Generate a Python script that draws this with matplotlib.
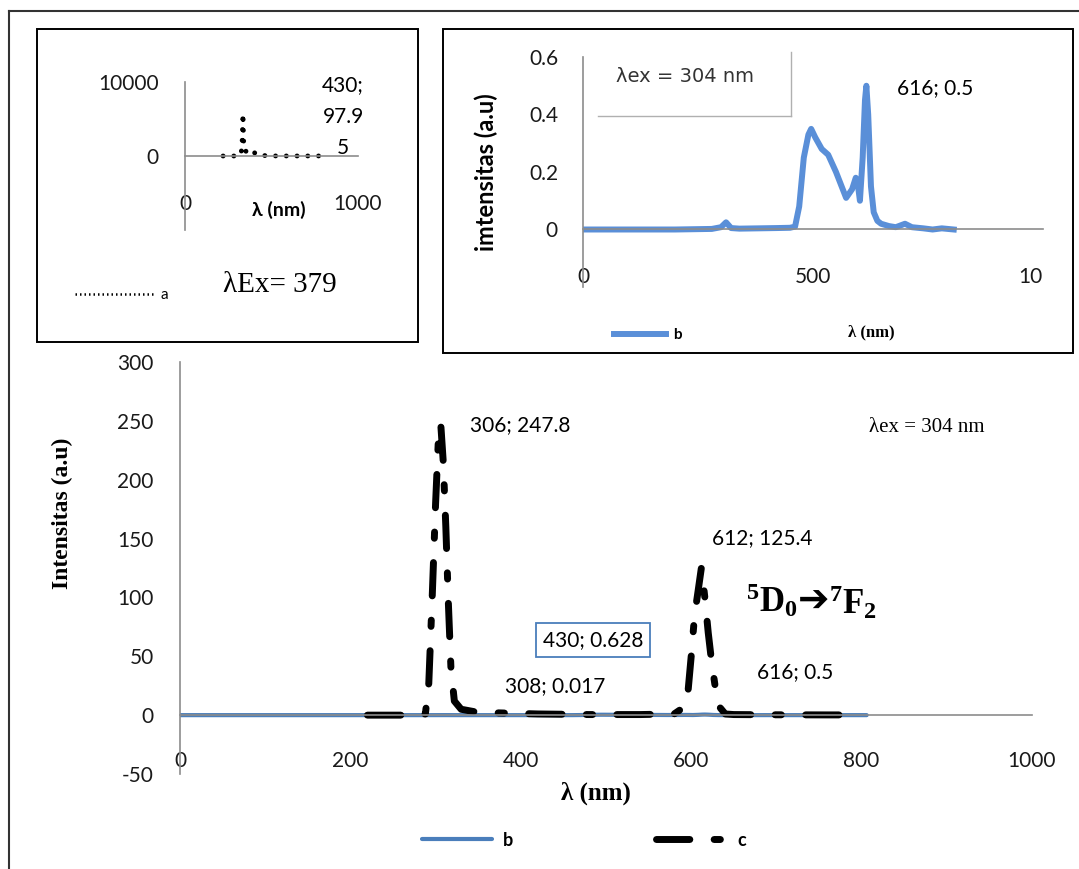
import matplotlib
matplotlib.use("Agg")
import matplotlib.pyplot as plt
from matplotlib.lines import Line2D
from matplotlib.patches import Rectangle

plt.rcParams["font.family"] = ["Lato", "DejaVu Sans"]
plt.rcParams["axes.unicode_minus"] = False
plt.rcParams["mathtext.fontset"] = "custom"
plt.rcParams["mathtext.rm"] = "Liberation Serif"
plt.rcParams["mathtext.bf"] = "Liberation Serif:bold"

# %%
# data
# series a (inset, lambda Ex = 379)
a_x = [220, 260, 300, 320, 329, 335, 340, 360, 393, 430, 500, 600, 700, 800]
a_y = [0, 0, 0, 150, 950, 5700, 1200, 300, 540, 98, 10, 5, 5, 5]

# series b (lambda ex = 304 nm)
b_x = [0, 100, 200, 280, 300, 311, 322, 340, 380, 420, 450, 461, 470, 480,
       490, 496, 505, 519, 533, 550, 572, 585, 593, 598, 602, 608, 613, 616,
       620, 626, 632, 640, 648, 665, 680, 700, 715, 740, 760, 780, 806]
b_y = [0, 0, 0, 0.002, 0.008, 0.025, 0.005, 0.003, 0.004, 0.005, 0.006, 0.01,
       0.08, 0.25, 0.33, 0.35, 0.32, 0.28, 0.26, 0.20, 0.11, 0.14, 0.18, 0.15,
       0.10, 0.25, 0.45, 0.5, 0.40, 0.15, 0.06, 0.03, 0.02, 0.012, 0.008, 0.02,
       0.008, 0.004, 0.0, 0.004, 0.0]

# series c
c_x = [220, 250, 280, 288, 292, 296, 300, 303, 306, 309, 312, 315, 318, 322,
       330, 345, 370, 420, 480, 540, 580, 588, 595, 600, 604, 608, 612, 616,
       620, 624, 628, 632, 640, 650, 700, 760, 800]
c_y = [0, 0, 0, 1, 27, 100, 180, 230, 247.8, 215, 160, 95, 40, 12,
       5, 3, 2, 1, 0.5, 0.5, 1, 5, 10, 50, 85, 105, 125.4, 100,
       70, 45, 25, 8, 1, 0.5, 0.3, 0.2, 0.2]

main_yticks = [-50, 0, 50, 100, 150, 200, 250, 300]
main_xticks = [0, 200, 400, 600, 800, 1000]

W, H = 1079, 869
BLUE = "#4a7ebb"
BLUE2 = "#5a8fd8"
GRAY = "#8c8c8c"
SERIF = "Liberation Serif"


def fx(x):
    return x / W


def fy(y):
    return 1 - y / H


def rect(x0, y0, x1, y1):
    return [fx(x0), fy(y1), (x1 - x0) / W, (y1 - y0) / H]


def style_axes(ax):
    for s in ["top", "right"]:
        ax.spines[s].set_visible(False)
    for s in ["left", "bottom"]:
        ax.spines[s].set_color(GRAY)
        ax.spines[s].set_linewidth(1.2)
        ax.spines[s].set_position(("data", 0))
    ax.set_facecolor("none")


fig = plt.figure(figsize=(W / 100, H / 100), dpi=100)

# outer frame lines
fig.add_artist(Line2D([fx(9), fx(1079)], [fy(11), fy(11)], color="#333333", lw=1.5))
fig.add_artist(Line2D([fx(9), fx(9)], [fy(11), fy(869)], color="#333333", lw=1.5))
# inset boxes
fig.add_artist(Rectangle((fx(37), fy(342)), 381 / W, 313 / H, transform=fig.transFigure,
                         fill=False, ec="black", lw=1.4))
fig.add_artist(Rectangle((fx(443), fy(353)), 630 / W, 324 / H, transform=fig.transFigure,
                         fill=False, ec="black", lw=1.4))

# %%
# main chart
ax = fig.add_axes(rect(180, 362, 1032, 774))
style_axes(ax)
ax.plot(b_x, b_y, color=BLUE, lw=3, solid_capstyle="round", label="b")
ax.plot(c_x, c_y, color="black", lw=5, ls=(0, (4.8, 3.5, 0.9, 3.5)),
        dash_capstyle="round", solid_capstyle="round", label="c")
ax.set_xlim(0, 1000)
ax.set_ylim(-50, 300)
ax.set_xticks(main_xticks)
ax.set_yticks(main_yticks)
ax.tick_params(length=0, labelsize=15, colors="#1a1a1a")
ax.tick_params(axis="x", pad=26)
ax.tick_params(axis="y", pad=19)

ax.legend(loc="center", bbox_to_anchor=(fx(584), fy(840)),
          bbox_transform=fig.transFigure, ncol=2, frameon=False,
          handlelength=3.9, columnspacing=7.9, handletextpad=0.6,
          prop={"weight": "bold", "size": 13})

fig.text(fx(62), fy(513), "Intensitas (a.u)", rotation=90, ha="center", va="center",
         family=SERIF, weight="bold", fontsize=17)
fig.text(fx(596), fy(793), "λ (nm)", ha="center", va="center",
         family=SERIF, weight="bold", fontsize=18)
fig.text(fx(520), fy(425), "306; 247.8", ha="center", va="center", fontsize=15)
fig.text(fx(555), fy(686), "308; 0.017", ha="center", va="center", fontsize=15)
fig.text(fx(762), fy(538), "612; 125.4", ha="center", va="center", fontsize=15)
fig.text(fx(795), fy(672), "616; 0.5", ha="center", va="center", fontsize=15)
fig.text(fx(593), fy(640), "430; 0.628", ha="center", va="center", fontsize=15,
         bbox=dict(boxstyle="square,pad=0.35", fc="white", ec=BLUE, lw=1.3))
fig.text(fx(927), fy(427), "λex = 304 nm", ha="center", va="center",
         family=SERIF, fontsize=15)
t1 = fig.text(fx(746), fy(600), r"$\mathbf{{}^{5}D_{0}}$", ha="left", va="center", fontsize=25)
t2 = ax.annotate("➔", xy=(1, 0.45), xycoords=t1, xytext=(0, 0), textcoords="offset points",
                 ha="left", va="center", fontsize=27, family="DejaVu Sans", weight="bold",
                 annotation_clip=False)
ax.annotate(r"$\mathbf{{}^{7}F_{2}}$", xy=(1, 0.5), xycoords=t2, xytext=(0, 0),
            textcoords="offset points", ha="left", va="center", fontsize=25,
            annotation_clip=False)

# %%
# inset a
ax1 = fig.add_axes(rect(185, 82, 358, 230))
style_axes(ax1)
ax1.plot(a_x, a_y, color="black", lw=3.5, ls=(0, (0.01, 2.2)), dash_capstyle="round")
ax1.set_xlim(0, 1000)
ax1.set_ylim(-10000, 10000)
ax1.set_xticks([0, 1000])
ax1.set_yticks([0, 10000])
ax1.tick_params(length=0, labelsize=15, colors="#1a1a1a")
ax1.tick_params(axis="x", pad=27)
ax1.tick_params(axis="y", pad=19)
fig.text(fx(279), fy(210), "λ (nm)", ha="center", va="center", weight="bold", fontsize=14)
fig.text(fx(343), fy(85), "430;", ha="center", va="center", fontsize=15)
fig.text(fx(343), fy(117), "97.9", ha="center", va="center", fontsize=15)
fig.text(fx(343), fy(148), "5", ha="center", va="center", fontsize=15)
fig.text(fx(280), fy(285), "λEx= 379", ha="center", va="center", family=SERIF, fontsize=21)
a_proxy = Line2D([], [], color="black", lw=1.8, ls=(0, (0.6, 1.2)))
fig.legend([a_proxy], ["a"], loc="center", bbox_to_anchor=(fx(122), fy(295)),
           frameon=False, handlelength=5.2, handletextpad=0.4, fontsize=11)

# %%
# inset b
ax2 = fig.add_axes(rect(583, 57, 1043, 287))
style_axes(ax2)
ax2.plot(b_x, b_y, color=BLUE2, lw=4.3, solid_joinstyle="round", label="b")
ax2.set_xlim(0, 1000)
ax2.set_ylim(-0.2, 0.6)
ax2.set_xticks([0, 500, 1000])
ax2.set_xticklabels(["0", "500", "10"])
ax2.get_xticklabels()[-1].set_horizontalalignment("right")
ax2.set_yticks([0, 0.2, 0.4, 0.6])
ax2.set_yticklabels(["0", "0.2", "0.4", "0.6"])
ax2.tick_params(length=0, labelsize=15, colors="#1a1a1a")
ax2.tick_params(axis="x", pad=27)
ax2.tick_params(axis="y", pad=18)
ax2.legend(loc="center", bbox_to_anchor=(fx(648), fy(335)), bbox_transform=fig.transFigure,
           frameon=False, handlelength=3.4, handletextpad=0.5,
           prop={"weight": "bold", "size": 11})
fig.text(fx(486), fy(172), "imtensitas (a.u)", rotation=90, ha="center", va="center",
         weight="bold", fontsize=17)
fig.text(fx(871), fy(332), "λ (nm)", ha="center", va="center",
         family=SERIF, weight="bold", fontsize=12)
fig.text(fx(935), fy(88), "616; 0.5", ha="center", va="center", fontsize=15)
fig.text(fx(685), fy(77), "λex = 304 nm", ha="center", va="center",
         family="DejaVu Sans", fontsize=14, color="#333333")
fig.add_artist(Line2D([fx(791), fx(791)], [fy(52), fy(116)], color="#b0b0b0", lw=1))
fig.add_artist(Line2D([fx(598), fx(791)], [fy(116), fy(116)], color="#b0b0b0", lw=1))

fig.savefig("out.png", dpi=100)
